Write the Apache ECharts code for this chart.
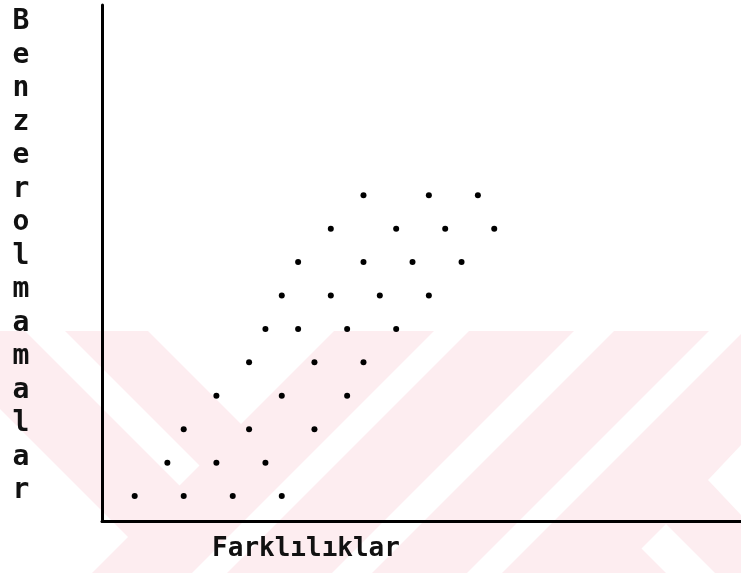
<!DOCTYPE html>
<html>
<head>
<meta charset="utf-8">
<script src="https://cdn.jsdelivr.net/npm/echarts@6/dist/echarts.min.js"></script>
<style>
  html, body { margin: 0; padding: 0; background: #ffffff; }
  #chart { width: 741px; height: 573px; }
</style>
</head>
<body>
<div id="chart"></div>
<script>
// 轴标题
const yName = 'Benzerolmamalar';
const xName = 'Farklılıklar';

// 散点数据（横向格子序号，纵向行序号）
const xValues = [
  2, 5, 8, 11,
  4, 7, 10,
  5, 9, 13,
  7, 11, 15,
  9, 13, 16,
  10, 12, 15, 18,
  11, 14, 17, 20,
  12, 16, 19, 22,
  14, 18, 21, 24,
  16, 20, 23,
];
const yValues = [
  1, 1, 1, 1,
  2, 2, 2,
  3, 3, 3,
  4, 4, 4,
  5, 5, 5,
  6, 6, 6, 6,
  7, 7, 7, 7,
  8, 8, 8, 8,
  9, 9, 9, 9,
  10, 10, 10,
];

const font = 'DejaVu Sans Mono';
const pink = '#fdedf0';

const chartsDom = document.getElementById('chart');
const mychart = echarts.init(chartsDom);

const option = {
  animation: false,
  backgroundColor: '#ffffff',
  title: [
    {
      text: yName.split('').join('\n'),
      left: 21,
      top: 5,
      padding: 0,
      textAlign: 'center',
      textStyle: {
        fontFamily: font,
        fontWeight: 'bold',
        fontSize: 28,
        lineHeight: 33.5,
        color: '#111111',
      },
    },
    {
      text: xName,
      left: 306,
      top: 536,
      padding: 0,
      textAlign: 'center',
      textStyle: {
        fontFamily: font,
        fontWeight: 'bold',
        fontSize: 26,
        lineHeight: 26,
        color: '#111111',
      },
    },
  ],
  // 背景水印（粉色斜纹）
  graphic: {
    elements: [
      { type: 'rect', silent: true, z: -10, shape: { x: 0, y: 331, width: 741, height: 242 }, style: { fill: pink } },
      { type: 'polygon', silent: true, z: -10, shape: { points: [[148, 331], [334, 331], [241, 424]] }, style: { fill: '#ffffff' } },
      { type: 'polygon', silent: true, z: -10, shape: { points: [[25, 331], [65, 331], [199.5, 465.5], [179.5, 485.5]] }, style: { fill: '#ffffff' } },
      { type: 'polygon', silent: true, z: -10, shape: { points: [[0, 409], [128, 537], [92, 573], [0, 573]] }, style: { fill: '#ffffff' } },
      { type: 'polygon', silent: true, z: -10, shape: { points: [[434, 331], [469, 331], [227, 573], [192, 573]] }, style: { fill: '#ffffff' } },
      { type: 'polygon', silent: true, z: -10, shape: { points: [[574, 331], [614, 331], [372, 573], [332, 573]] }, style: { fill: '#ffffff' } },
      { type: 'polygon', silent: true, z: -10, shape: { points: [[709, 331], [744, 331], [502, 573], [467, 573]] }, style: { fill: '#ffffff' } },
      { type: 'polygon', silent: true, z: -10, shape: { points: [[741, 445], [708, 480], [741, 515]] }, style: { fill: '#ffffff' } },
      { type: 'polygon', silent: true, z: -10, shape: { points: [[666, 524], [641.5, 548.5], [666, 573], [715, 573]] }, style: { fill: '#ffffff' } },
    ],
  },
  grid: {
    left: 102,
    right: 0,
    top: 5,
    bottom: 51.5,
  },
  xAxis: {
    type: 'value',
    min: 0,
    max: 39.1,
    axisLine: { show: true, lineStyle: { color: '#000000', width: 3 } },
    axisTick: { show: false },
    axisLabel: { show: false },
    splitLine: { show: false },
  },
  yAxis: {
    type: 'value',
    min: 0.24,
    max: 15.69,
    axisLine: { show: true, lineStyle: { color: '#000000', width: 3 } },
    axisTick: { show: false },
    axisLabel: { show: false },
    splitLine: { show: false },
  },
  series: [
    {
      type: 'scatter',
      symbol: 'circle',
      symbolSize: 6,
      itemStyle: { color: '#000000', opacity: 1 },
      data: xValues.map((x, i) => [x, yValues[i]]),
    },
  ],
};

mychart.setOption(option);

// 监听窗口变化，自适应图表大小
window.addEventListener('resize', () => {
  mychart.resize();
});
</script>
</body>
</html>
